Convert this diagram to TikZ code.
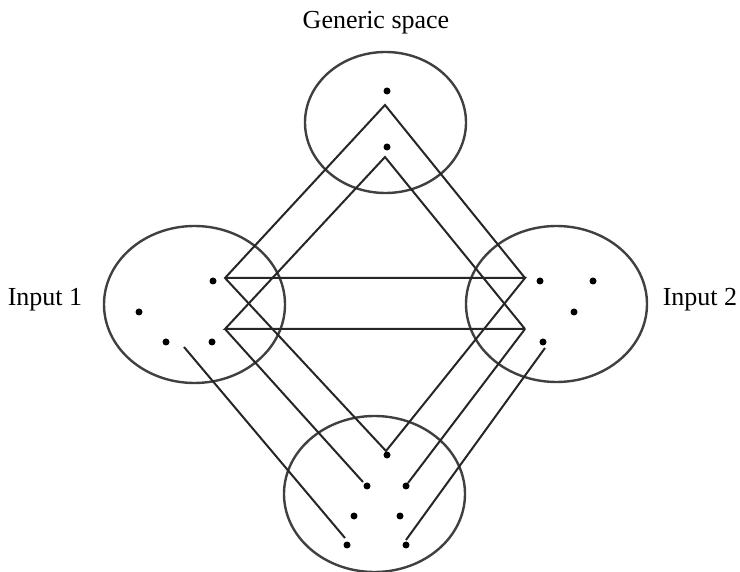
\documentclass[tikz,border=0pt]{standalone}
\usepackage{fontspec}
\setmainfont{Liberation Serif}
\begin{document}
\begin{tikzpicture}[x=0.5pt,y=-0.5pt,
  space/.style={draw=black!75,line width=1.2pt},
  link/.style={draw=black!85,line width=1pt},
  dot/.style={circle,fill=black,inner sep=0pt,minimum size=3.5pt},
  lbl/.style={font=\fontsize{13}{15}\selectfont,anchor=base,inner sep=0pt}]
\useasboundingbox (0,0) rectangle (740,572);
% labels
\node[lbl] (tg) at (376,29) {Generic space};
\node[lbl] (t1) at (45,306) {Input 1};
\node[lbl] (t2) at (700,306) {Input 2};
% spaces
\draw[space] (385.5,122.5) ellipse [x radius=80.5, y radius=70.5];
\draw[space] (194.5,304.5) ellipse [x radius=90.5, y radius=78.5];
\draw[space] (556.5,304) ellipse [x radius=90.5, y radius=78];
\draw[space] (374.5,494) ellipse [x radius=90.5, y radius=78];
% dots: generic
\node[dot] (g1) at (387,91) {};
\node[dot] (g2) at (387,147) {};
% dots: input 1
\node[dot] (a1) at (213,281) {};
\node[dot] (a2) at (139,312) {};
\node[dot] (a3) at (166,342) {};
\node[dot] (a4) at (212,342) {};
% dots: input 2
\node[dot] (b1) at (540,281) {};
\node[dot] (b2) at (593,281) {};
\node[dot] (b3) at (574,312) {};
\node[dot] (b4) at (543,342) {};
% dots: blend
\node[dot] (c1) at (387,455) {};
\node[dot] (c2) at (367,486) {};
\node[dot] (c3) at (406,486) {};
\node[dot] (c4) at (354,516) {};
\node[dot] (c5) at (400,516) {};
\node[dot] (c6) at (347,545) {};
\node[dot] (c7) at (406,545) {};
% connector points
\coordinate (gt) at (385,105);
\coordinate (gb) at (385,157);
\coordinate (l1) at (225,278);
\coordinate (l2) at (225,329);
\coordinate (r1) at (525,278);
\coordinate (r2) at (525,329);
\coordinate (bt) at (386,451);
\coordinate (e2) at (363,482);
\coordinate (e3) at (408,483);
\coordinate (s1) at (184,347);
\coordinate (e6) at (345,538);
\coordinate (s2) at (545,348);
\coordinate (e7) at (406,540);
% connectors
\draw[link] (r1) -- (gt) -- (l1) -- (bt) -- (r1) -- (l1);
\draw[link] (r2) -- (gb) -- (l2) -- (r2);
\draw[link] (l2) -- (e2);
\draw[link] (r2) -- (e3);
\draw[link] (s1) -- (e6);
\draw[link] (s2) -- (e7);
\end{tikzpicture}
\end{document}
